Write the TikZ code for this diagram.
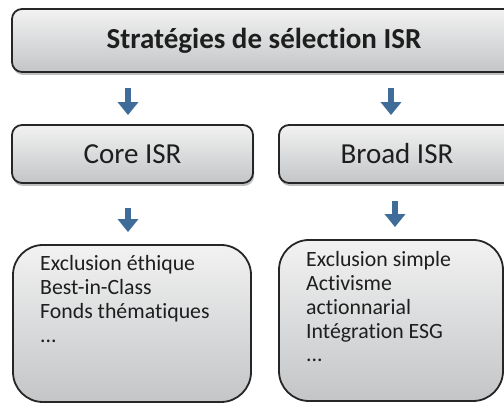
\documentclass[tikz,border=0pt]{standalone}
\usepackage{fontspec}
\setmainfont{Carlito}[Ligatures=NoCommon]
\usetikzlibrary{arrows.meta,shadows}
\definecolor{boxtop}{HTML}{F2F2F2}
\definecolor{boxbot}{HTML}{C3C5C7}
\definecolor{boxline}{HTML}{262626}
\definecolor{arrowblue}{HTML}{3F6C99}
\definecolor{txt}{HTML}{1E1E1E}
\tikzset{
  box/.style={draw=boxline, line width=1.8pt, rounded corners=10pt,
    top color=boxtop, bottom color=boxbot, inner sep=0pt, text=txt},
  shadowbox/.style={box, drop shadow={shadow xshift=1pt, shadow yshift=-3pt, fill=black!45, opacity=.55}},
  listbox/.style={box, rounded corners=30pt},
  blockarrow/.style={draw=arrowblue, line width=6pt,
    -{Triangle[width=20pt,length=13pt]}},
  listtext/.style={anchor=base west, inner sep=0pt, text=txt,
    font=\fontsize{21.8}{23.7}\selectfont},
}
\newcommand{\listlines}[1]{\parbox[t]{200pt}{\raggedright #1}}
\begin{document}
\begin{tikzpicture}[x=1pt,y=-1pt]
\clip (0,0) rectangle (504,403);
\fill[white] (0,0) rectangle (504,403);
\node[shadowbox, minimum width=504pt, minimum height=63pt,
  font=\fontsize{29}{33}\selectfont\bfseries] (top) at (264,40.5) {Stratégies de sélection ISR};
\node[shadowbox, minimum width=241pt, minimum height=58pt,
  font=\fontsize{29}{33}\selectfont] (core) at (132.5,154) {Core ISR};
\node[shadowbox, minimum width=236pt, minimum height=58pt,
  font=\fontsize{29}{33}\selectfont] (broad) at (397,154) {Broad ISR};
\node[listbox, minimum width=238pt, minimum height=157pt] (lbox) at (132,323.5) {};
\node[listbox, minimum width=224pt, minimum height=161pt] (rbox) at (391,320.5) {};
\node[listtext] (ltext) at (40,271) {\listlines{Exclusion éthique\\Best-in-Class\\Fonds thématiques\\...}};
\node[listtext] (rtext) at (306,267) {\listlines{Exclusion simple\\Activisme\\actionnarial\\Intégration ESG\\...}};
\draw[blockarrow] ([xshift=-136pt,yshift=-15pt]top.south) -- ([xshift=-4.5pt,yshift=9pt]core.north);
\draw[blockarrow] ([xshift=127pt,yshift=-15pt]top.south) -- ([xshift=-6pt,yshift=9pt]broad.north);
\draw[blockarrow] ([xshift=-4.5pt,yshift=-24pt]core.south) -- ([xshift=-4pt,yshift=12pt]lbox.north);
\draw[blockarrow] ([xshift=-2pt,yshift=-17pt]broad.south) -- ([xshift=4pt,yshift=12pt]rbox.north);
\end{tikzpicture}
\end{document}
